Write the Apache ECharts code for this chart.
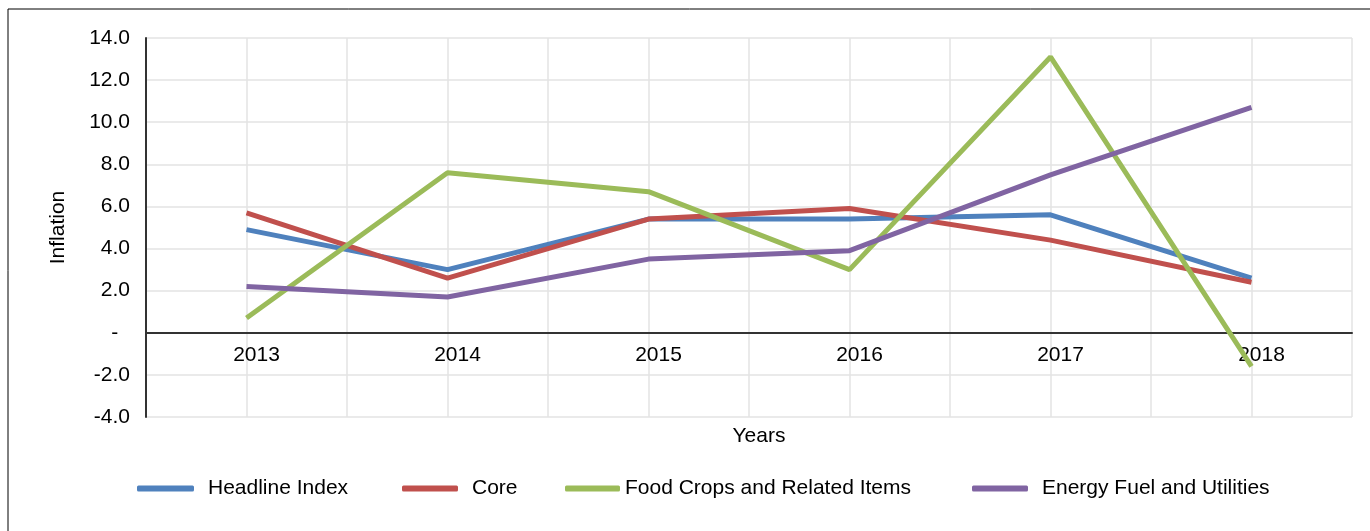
<!DOCTYPE html>
<html>
<head>
<meta charset="utf-8">
<script src="https://cdn.jsdelivr.net/npm/echarts@6/dist/echarts.min.js"></script>
<style>
  html, body { margin: 0; padding: 0; background: #fff; }
  #chart { width: 1370px; height: 531px; }
</style>
</head>
<body>
<div id="chart"></div>
<script>
// Inflation by component, 2013-2018
const years = ['2013', '2014', '2015', '2016', '2017', '2018'];
const headline = [4.9, 3.0, 5.4, 5.4, 5.6, 2.6];
const core = [5.7, 2.6, 5.4, 5.9, 4.4, 2.4];
const foodCrops = [0.7, 7.6, 6.7, 3.0, 13.1, -1.6];
const energy = [2.2, 1.7, 3.5, 3.9, 7.5, 10.7];

const seriesNames = ['Headline Index', 'Core', 'Food Crops and Related Items', 'Energy Fuel and Utilities'];
const seriesColors = ['#4F81BD', '#C0504D', '#9BBB59', '#8064A2'];

const axisFont = 'Liberation Sans, Arial, sans-serif';
const fontSize = 21;

const yMin = -4, yMax = 14;
const gridTop = 38, gridBottom = 114, chartHeight = 531;

// distance from the bottom of the plot up to the zero line
const plotHeight = chartHeight - gridTop - gridBottom;
const zeroOffset = plotHeight * (0 - yMin) / (yMax - yMin);

const chart = echarts.init(document.getElementById('chart'));

function lineSeries(name, values, color) {
  return {
    name: name,
    type: 'line',
    data: values,
    xAxisIndex: 0,
    yAxisIndex: 0,
    symbol: 'none',
    lineStyle: { color: color, width: 5 },
    itemStyle: { color: color }
  };
}

function legendItem(name, left, width, textPad) {
  return {
    data: [name],
    left: left,
    top: 478,
    padding: 0,
    icon: 'roundRect',
    itemWidth: width,
    itemHeight: 6,
    textStyle: {
      fontFamily: axisFont, fontSize: fontSize, color: '#000',
      padding: [0, 0, 0, textPad]
    }
  };
}

chart.setOption({
  animation: false,
  backgroundColor: '#fff',
  graphic: [{
    type: 'rect',
    shape: { x: 8, y: 9, width: 1400, height: 600 },
    style: { fill: 'none', stroke: '#000', lineWidth: 1 },
    silent: true
  }],
  grid: { left: 146, right: 18, top: gridTop, bottom: gridBottom, containLabel: false },
  legend: [
    legendItem(seriesNames[0], 137, 57, 9),
    legendItem(seriesNames[1], 402, 56, 9),
    legendItem(seriesNames[2], 565, 55, 0),
    legendItem(seriesNames[3], 972, 56, 9)
  ],
  xAxis: [{
    type: 'category',
    data: years,
    boundaryGap: true,
    offset: -zeroOffset,
    name: 'Years',
    nameLocation: 'middle',
    nameGap: 93,
    nameTextStyle: { fontFamily: axisFont, fontSize: fontSize, color: '#000', padding: [0, 0, 0, 20] },
    axisLine: { onZero: false, lineStyle: { color: '#333', width: 2 } },
    axisTick: { show: false },
    axisLabel: {
      fontFamily: axisFont, fontSize: fontSize, color: '#000',
      margin: 12, padding: [0, 0, 0, 20]
    },
    splitLine: { show: false }
  }, {
    // half-category grid lines
    type: 'value',
    min: 0,
    max: 12,
    interval: 1,
    position: 'top',
    axisLine: { show: false, onZero: false },
    axisTick: { show: false },
    axisLabel: { show: false },
    splitLine: { show: true, lineStyle: { color: '#e3e3e3', width: 1.5 } }
  }],
  yAxis: {
    type: 'value',
    min: yMin,
    max: yMax,
    interval: 2,
    name: 'Inflation',
    nameLocation: 'middle',
    nameGap: 77,
    nameRotate: 90,
    nameTextStyle: { fontFamily: axisFont, fontSize: fontSize, color: '#000' },
    axisLine: { show: true, onZero: false, lineStyle: { color: '#333', width: 2 } },
    axisTick: { show: false },
    axisLabel: {
      fontFamily: axisFont, fontSize: fontSize, color: '#000', margin: 16,
      formatter: function (v) { return v === 0 ? '-  ' : v.toFixed(1); }
    },
    splitLine: { show: true, lineStyle: { color: '#e3e3e3', width: 1.5 } }
  },
  series: [
    lineSeries(seriesNames[0], headline, seriesColors[0]),
    lineSeries(seriesNames[1], core, seriesColors[1]),
    lineSeries(seriesNames[2], foodCrops, seriesColors[2]),
    lineSeries(seriesNames[3], energy, seriesColors[3])
  ]
});
</script>
</body>
</html>
